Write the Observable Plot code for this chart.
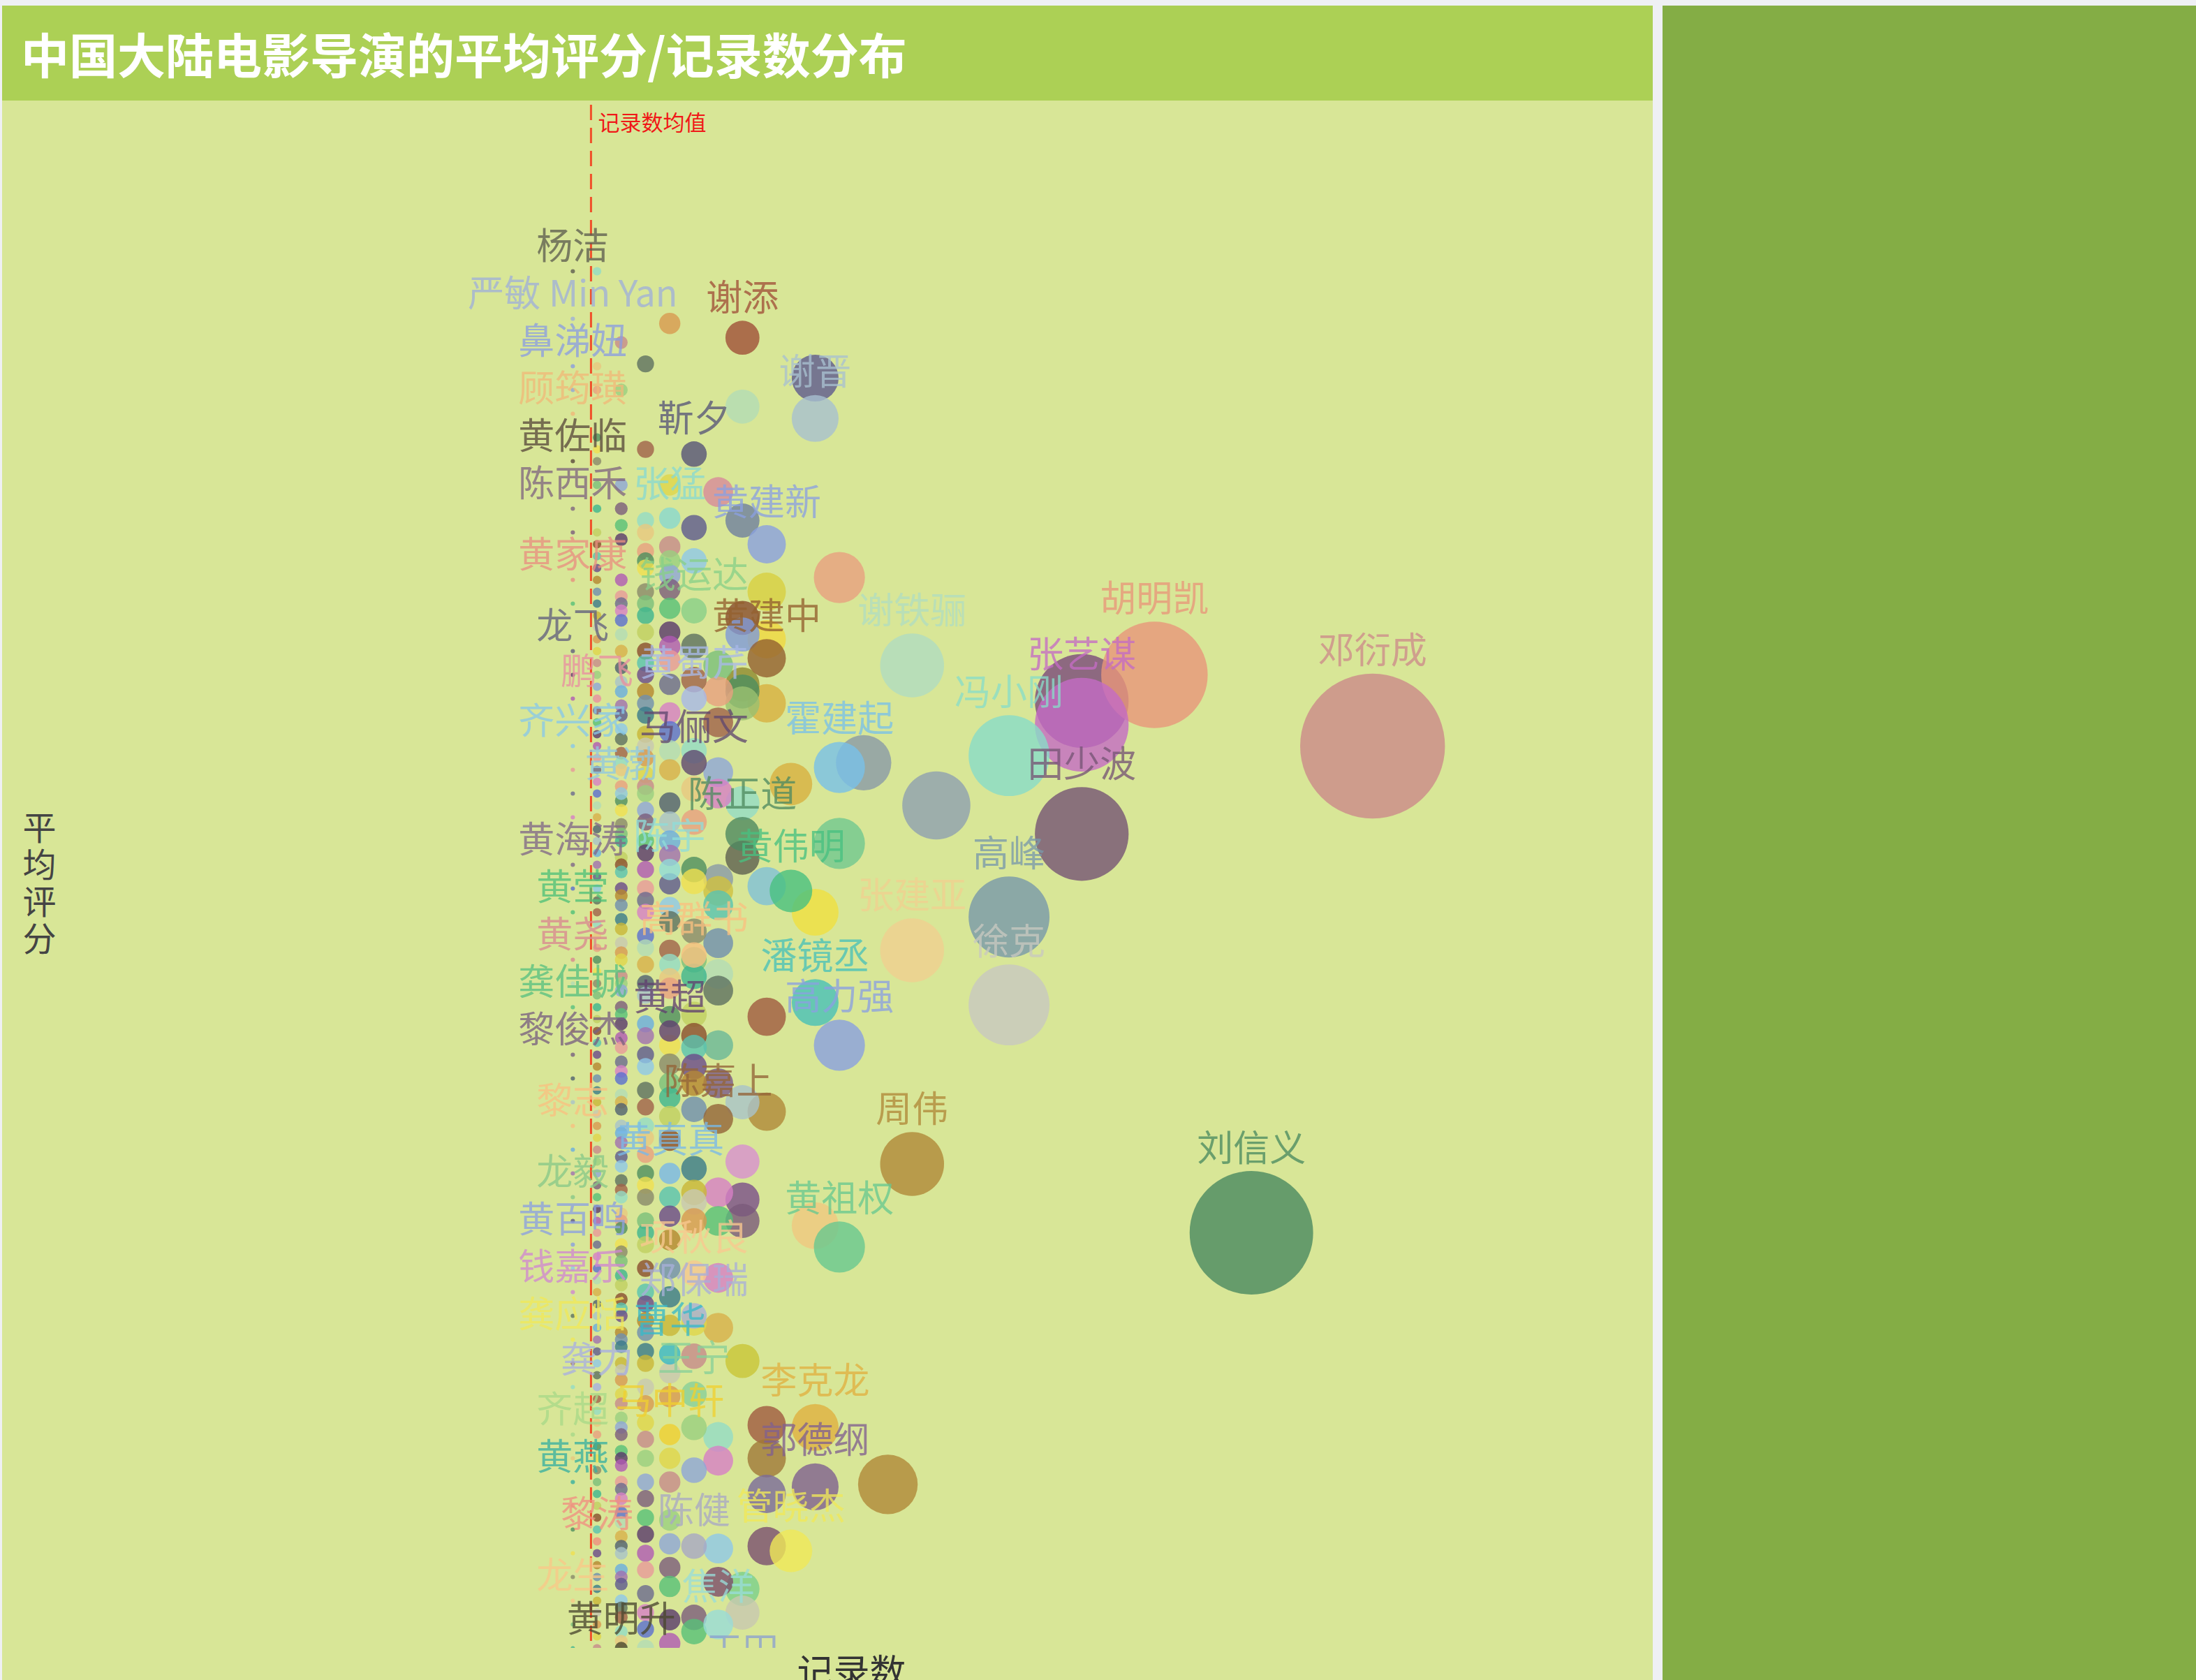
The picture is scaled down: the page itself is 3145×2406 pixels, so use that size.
<!DOCTYPE html>
<html><head><meta charset="utf-8">
<script src="https://cdn.jsdelivr.net/npm/d3@7"></script>
<script src="https://cdn.jsdelivr.net/npm/@observablehq/plot@0.6"></script>
<style>
html,body{margin:0;padding:0;}
body{width:3145px;height:2406px;overflow:hidden;background:#eff0f4;position:relative;font-family:"Noto Sans CJK SC",sans-serif;}
#left{position:absolute;left:3px;top:8px;width:2364px;height:2460px;background:#d8e697;overflow:hidden;}
#header{height:136px;background:#acd055;color:#fff;font-weight:bold;font-size:69px;line-height:136px;padding-left:27px;white-space:nowrap;font-family:"Noto Sans CJK SC",sans-serif;}
#right{position:absolute;left:2381px;top:8px;width:764px;height:2460px;background:#84ad45;}
</style></head><body>
<div id="left"><div id="header">中国大陆电影导演的平均评分/记录数分布</div><div id="chart"></div></div>
<div id="right"></div>
<script>
// ---------- data ----------
const names = ["杨洁","严敏 Min Yan","鼻涕妞","顾筠璜","黄佐临","陈西禾","黄家康","龙飞","鹏飞","齐兴家","黄海涛","黄莹","黄尧","龚佳城","黎俊杰","黎志","龙毅","黄百鸣","钱嘉乐","龚应恬","龚力","齐超","黄燕","黎涛","龙生","黄明升","黄渤","谢添","谢晋","靳夕","张猛","黄建新","钱运达","黄建中","谢铁骊","胡明凯","张艺谋","冯小刚","田少波","邓衍成","高峰","徐克","刘信义","周伟","张建亚","霍建起","马俪文","陈正道","黄伟明","陈宇","黄蜀芹","潘镜丞","高力强","黄超","高群书","陈嘉上","黄真真","黄祖权","项秋良","郑保瑞","曹华","王宁","李克龙","马中轩","郭德纲","陈健","管晓杰","焦洋","王田"];
const nameCounts = [1,1,1,1,1,1,1,1,2,1,1,1,1,1,1,1,1,1,1,1,2,1,1,2,1,3,3,8,11,6,5,9,6,9,15,25,22,19,22,34,19,19,29,15,15,12,6,8,10,5,6,11,12,5,6,7,5,12,6,6,5,6,11,5,11,6,10,7,8];
const nameScores = [9.3,9.1,8.9,8.7,8.5,8.3,8.0,7.7,7.5,7.3,6.8,6.6,6.4,6.2,6.0,5.7,5.4,5.2,5.0,4.8,4.6,4.4,4.2,3.95,3.7,3.5,7.1,9.02,8.68,8.53,8.26,8.15,7.87,7.67,7.64,7.6,7.39,7.26,6.93,7.3,6.58,6.21,5.25,5.54,6.44,7.21,7.23,6.93,6.69,6.78,7.5,6.22,6.04,6.1,6.42,5.73,5.5,5.19,5.08,4.9,4.74,4.57,4.43,4.4,4.18,3.93,3.91,3.6,3.32];

// unlabeled directors, one array per record count
const scores1 = [8.8,8.2,7.9,7.6,7.5,7.2,7.1,7.0,6.7,6.3,6.1,5.9,5.8,5.6,5.5,5.3,5.1,4.9,4.7,4.6,4.3,4.1,4.0,3.9,3.8,3.6,3.5];
const scores2 = [9.3,8.9,8.8,8.6,8.55,8.5,8.4,8.3,8.2,8.15,8.1,8.05,8.0,7.95,7.9,7.85,7.8,7.75,7.7,7.65,7.6,7.55,7.45,7.4,7.35,7.3,7.25,7.2,7.15,7.1,7.05,7.0,6.95,6.9,6.85,6.8,6.75,6.7,6.65,6.6,6.55,6.5,6.45,6.4,6.35,6.3,6.25,6.2,6.15,6.1,6.05,6.0,5.95,5.9,5.85,5.8,5.75,5.7,5.65,5.6,5.55,5.5,5.45,5.4,5.35,5.3,5.25,5.2,5.15,5.1,5.05,5.0,4.95,4.9,4.85,4.8,4.75,4.7,4.65,4.55,4.5,4.45,4.4,4.35,4.3,4.25,4.2,4.15,4.1,4.05,4.0,3.9,3.85,3.8,3.75,3.7,3.65,3.6,3.55,3.5,3.45];
const scores3 = [9.0,8.8,8.4,8.3,8.23,8.17,8.0,7.93,7.9,7.87,7.83,7.77,7.7,7.63,7.57,7.53,7.47,7.43,7.37,7.33,7.27,7.23,7.2,7.13,7.07,7.03,6.97,6.93,6.9,6.83,6.8,6.77,6.7,6.67,6.63,6.57,6.53,6.47,6.43,6.4,6.33,6.3,6.27,6.2,6.17,6.13,6.07,6.03,5.97,5.93,5.9,5.83,5.8,5.77,5.7,5.67,5.63,5.57,5.53,5.47,5.43,5.4,5.33,5.3,5.27,5.2,5.17,5.13,5.07,5.03,4.97,4.93,4.9,4.83,4.8,4.77,4.7,4.67,4.63,4.57,4.53,4.47,4.43,4.4,4.33,4.3,4.27,4.2,4.17,4.13,4.07,4.03,3.97,3.93,3.9,3.83,3.8,3.77,3.7,3.67,3.63,3.57,3.53,3.47];
const scores4 = [8.91,8.55,8.25,8.2,8.12,8.08,8.05,7.95,7.9,7.85,7.78,7.7,7.65,7.6,7.53,7.48,7.43,7.35,7.3,7.25,7.18,7.13,7.1,7.03,6.98,6.9,6.85,6.78,6.7,6.65,6.6,6.5,6.45,6.38,6.3,6.25,6.13,6.08,6.0,5.95,5.85,5.78,5.7,5.65,5.58,5.5,5.45,5.4,5.3,5.25,5.2,5.1,5.0,4.95,4.88,4.83,4.75,4.7,4.6,4.53,4.45,4.38,4.3,4.2,4.13,4.05,3.98,3.9,3.83,3.73,3.65,3.58,3.5];
const scores5 = [9.08,8.4,8.14,8.08,8.02,7.96,7.88,7.78,7.72,7.66,7.56,7.44,7.36,7.28,7.2,7.06,6.98,6.9,6.84,6.72,6.62,6.56,6.44,6.38,6.32,6.28,6.16,6.04,5.96,5.88,5.82,5.74,5.64,5.4,5.32,5.22,5.1,4.98,4.86,4.66,4.56,4.3,4.2,4.04,3.94,3.84,3.76,3.62,3.52];
const scores6 = [8.22,8.08,7.72,7.58,7.28,7.12,6.98,6.78,6.73,6.52,6.4,6.33,6.17,6.08,6.03,5.95,5.88,5.77,5.52,5.42,5.38,5.3,4.87,4.73,4.43,4.25,3.63,3.57];

// larger unlabeled bubbles
const bigCounts = [7,7,7,7,7,7,7,7,7,7,7,7,7,7,7,7,7,7,7,7,7,7, 8,8,8,8,8,8,8,8,8,8,8,8,8,8,8,8, 9,9,9,9,9,9,9,9,9,9, 10, 11,11,11, 12,12, 13, 14, 16, 22];
const bigScores = [8.37,7.64,7.53,7.40,7.19,7.1,6.74,6.69,6.63,6.47,6.34,6.27,6.04,5.88,5.42,5.30,5.06,4.85,4.39,4.29,3.92,3.78, 8.73,8.25,7.84,7.77,7.56,7.53,7.48,7.06,6.83,5.80,5.55,5.39,5.30,4.71,3.75,3.65, 7.95,7.75,7.48,6.71,6.16,5.76,4.44,4.30,4.15,3.93, 7.14, 8.85,6.60,5.28, 8.01,6.89, 7.23, 4.19, 7.05, 7.49];

const meanRecords = 1.75;

// ---------- styles ----------
const palette = ["#e8a07f","#a0614a","#5e5a8e","#a9c3c9","#b3dcb5","#6b6a8f","#5a3a6b","#8fa6d8","#e0d64a","#c9b637","#b5872f","#8a4e2e","#7bbf7b","#4f8f5f","#94dcc6","#8ec8e8","#6aaee0","#d8b04a","#d780c6","#b05ab4","#7c5c7c","#c78b8b","#c8c8b0","#6f8faf","#59c3b0","#3fb58f","#f0e050","#e8c880","#5e7060","#a070b0","#506070","#5b6fd0","#e89a9a","#58c078","#9ad080","#d89a50","#3a7a8a","#6a4a8a","#c0d060","#8a8a6a"];
const bigColors = ["#d88a9a","#7bbf7b","#e8a07f","#a0614a","#8fa6d8","#d780c6","#8a9aa8","#d0c040","#59c3b0","#6f8faf","#b3dcb5","#5e7060","#6ab898","#7a5a8a","#d780c6","#58c078","#d780c6","#d8b04a","#94dcc6","#d780c6","#8ec8e8","#7c4c6c",
 "#b3dcb5","#6f7f9f","#8a4e2e","#7f9ad8","#8f8a30","#4f8f5f","#9ac070","#94dcc6","#5e6050","#a9c3c9","#d890d0","#7a4f8a","#7a5a7a","#c9c637","#7bcf8b","#c8c8b0",
 "#d8d040","#f0d840","#d8b040","#80c0d8","#a05a40","#b08838","#a05a40","#a07838","#7a6a9a","#7a4f6f",
 "#d8b040","#5e5a8e","#f0e040","#f0c880","#e8a07f","#70c890","#8a9aa8","#b08838","#8fa0b0","#7a4a7a"];
const nameColors = {"杨洁":"#5e5e50","严敏 Min Yan":"#9fb0d8","鼻涕妞":"#8a9ee0","顾筠璜":"#f0b878","黄佐临":"#5a4a3c","陈西禾":"#806680","黄家康":"#e89080","龙飞":"#62607e","鹏飞":"#e890a0","齐兴家":"#88c8e8","黄海涛":"#806888","黄莹":"#50c078","黄尧":"#d88890","龚佳城":"#58c080","黎俊杰":"#786080","黎志":"#f8c080","龙毅":"#88c888","黄百鸣":"#8aa0e0","钱嘉乐":"#d088d0","龚应恬":"#f0e858","龚力":"#a8b0e0","齐超":"#a8d888","黄燕":"#38b0a0","黎涛":"#f09080","龙生":"#f8c888","黄明升":"#4a4830","黄渤":"#90c8e0","谢添":"#a05038","谢晋":"#a8c0d0","靳夕":"#565478","张猛":"#88d8d0","黄建新":"#8aa0e0","钱运达":"#88d088","黄建中":"#946030","谢铁骊":"#b0dcc0","胡明凯":"#e8967a","张艺谋":"#c46cc4","冯小刚":"#88dcc8","田少波":"#765474","邓衍成":"#cc8a8a","高峰":"#7898aa","徐克":"#c8c8c0","刘信义":"#4a8a60","周伟":"#b08838","张建亚":"#f0d090","霍建起":"#78c0e8","马俪文":"#604870","陈正道":"#4f8a60","黄伟明":"#48c080","陈宇":"#90dcd8","黄蜀芹":"#a8b8e8","潘镜丞":"#48c0b8","高力强":"#8aa0e0","黄超":"#604070","高群书":"#f8c080","陈嘉上":"#946438","黄真真":"#78b8e8","黄祖权":"#68c890","项秋良":"#f8c890","郑保瑞":"#a8b0d8","曹华":"#38b8c8","王宁":"#88d098","李克龙":"#e0b040","马中轩":"#f0d030","郭德纲":"#806090","陈健":"#a8a8c4","管晓杰":"#f0e858","焦洋":"#98dcd8","王田":"#8aa0d0"};
const R_PER_RECORD = 3.05;

// ---------- build ----------
const columns = [[1,scores1],[2,scores2],[3,scores3],[4,scores4],[5,scores5],[6,scores6]];
const pts = [];
columns.forEach(([c, arr]) => arr.forEach((s, i) => pts.push({count: c, score: s, color: palette[(i * 13 + c * 7) % palette.length]})));
bigCounts.forEach((c, i) => pts.push({count: c, score: bigScores[i], color: bigColors[i]}));
const labeled = names.map((n, i) => ({name: n, count: nameCounts[i], score: nameScores[i], color: nameColors[n]}));

const labelMarks = d3.groups(labeled, d => d.count).map(([c, g]) =>
  Plot.text(g, {x: "count", y: "score", text: "name", fill: "color", fillOpacity: 0.78, fontSize: 52,
    dy: -(c * R_PER_RECORD + 31), clip: true}));

const yAxisName = "平均评分";
const chart = Plot.plot({
  width: 2364, height: 2290,
  marginTop: 6, marginBottom: 74, marginLeft: 88, marginRight: 20,
  x: {domain: [-20, 45], axis: null},
  y: {domain: [3.5, 10], axis: null},
  r: {type: "linear", domain: [0, 34], range: [0, 34 * R_PER_RECORD]},
  color: {type: "identity"},
  style: {background: "transparent", fontFamily: "'Noto Sans CJK SC', sans-serif", overflow: "visible"},
  marks: [
    Plot.dot(pts, {x: "count", y: "score", r: "count", fill: "color", fillOpacity: 0.8, clip: true}),
    Plot.dot(labeled, {x: "count", y: "score", r: "count", fill: "color", fillOpacity: 0.8, clip: true}),
    Plot.ruleX([meanRecords], {x: d => d, stroke: "#f0502a", strokeWidth: 3, strokeDasharray: "22,11"}),
    Plot.text([meanRecords], {x: d => d, frameAnchor: "top", dx: 10, dy: 27, text: () => "记录数均值", fill: "#f01818", fontSize: 31, textAnchor: "start", lineAnchor: "middle"}),
    ...labelMarks,
    Plot.text(["记录数"], {frameAnchor: "bottom", dy: 37, text: d => d, fontSize: 52, fill: "#333", textAnchor: "middle", lineAnchor: "middle"}),
    Plot.text([yAxisName], {frameAnchor: "left", dx: -35, dy: -4, text: d => d, fontSize: 48, fill: "#444", textAnchor: "middle", lineAnchor: "middle"})
  ]
});
// set the y-axis name in vertical writing mode (upright characters)
d3.select(chart).selectAll("text").filter(function() { return this.textContent === yAxisName; })
  .style("writing-mode", "vertical-rl").style("text-orientation", "upright").style("letter-spacing", "5px");
document.getElementById("chart").appendChild(chart);
</script></body></html>
